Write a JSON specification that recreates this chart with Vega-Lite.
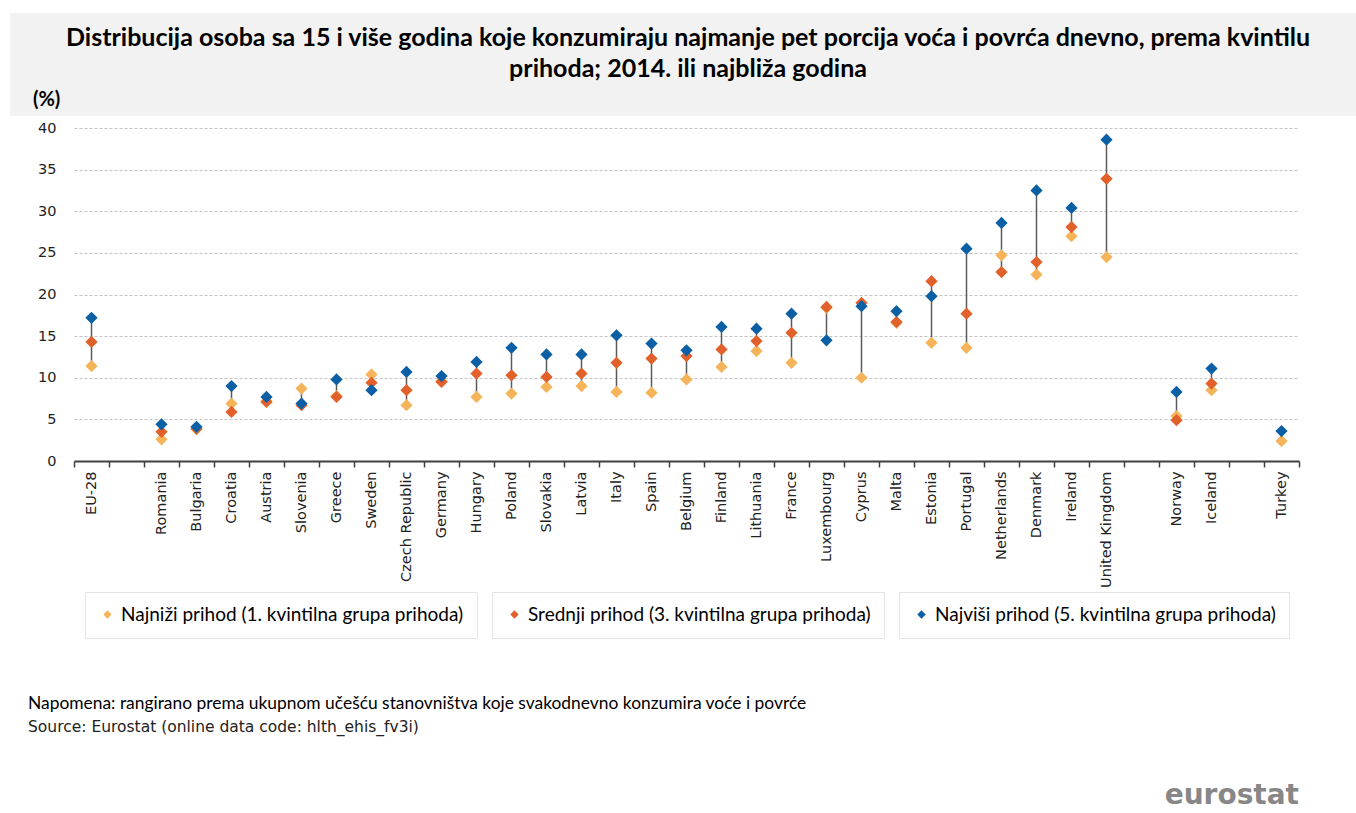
{
  "$schema": "https://vega.github.io/schema/vega-lite/v6.json",
  "background": "white",
  "padding": {"left": 9, "top": 13, "right": 0, "bottom": 0},
  "spacing": 4,
  "config": {
    "view": {"stroke": null},
    "font": "Liberation Sans",
    "legend": {
      "orient": "bottom",
      "title": null,
      "labelFont": "Lato",
      "labelFontSize": 19,
      "labelLimit": 600,
      "labelColor": "#000000",
      "symbolType": "diamond",
      "symbolSize": 70,
      "symbolStrokeWidth": 0,
      "symbolOffset": 0,
      "strokeColor": "#e4e4e4",
      "padding": 13,
      "offset": 4,
      "layout": {"bottom": {"anchor": "middle", "direction": "horizontal", "margin": 15}}
    }
  },
  "datasets": {
    "heading": [
      {"role": "t1", "text": "Distribucija osoba sa 15 i više godina koje konzumiraju najmanje pet porcija voća i povrća dnevno, prema kvintilu"},
      {"role": "t2", "text": "prihoda; 2014. ili najbliža godina"},
      {"role": "unit", "text": "(%)"}
    ],
    "consumption": [
      {"country": "EU-28", "group": "Najniži prihod (1. kvintilna grupa prihoda)", "value": 11.4},
      {"country": "EU-28", "group": "Srednji prihod (3. kvintilna grupa prihoda)", "value": 14.3},
      {"country": "EU-28", "group": "Najviši prihod (5. kvintilna grupa prihoda)", "value": 17.2},
      {"country": "Romania", "group": "Najniži prihod (1. kvintilna grupa prihoda)", "value": 2.6},
      {"country": "Romania", "group": "Srednji prihod (3. kvintilna grupa prihoda)", "value": 3.5},
      {"country": "Romania", "group": "Najviši prihod (5. kvintilna grupa prihoda)", "value": 4.4},
      {"country": "Bulgaria", "group": "Najniži prihod (1. kvintilna grupa prihoda)", "value": 3.8},
      {"country": "Bulgaria", "group": "Srednji prihod (3. kvintilna grupa prihoda)", "value": 3.9},
      {"country": "Bulgaria", "group": "Najviši prihod (5. kvintilna grupa prihoda)", "value": 4.1},
      {"country": "Croatia", "group": "Najniži prihod (1. kvintilna grupa prihoda)", "value": 6.9},
      {"country": "Croatia", "group": "Srednji prihod (3. kvintilna grupa prihoda)", "value": 5.9},
      {"country": "Croatia", "group": "Najviši prihod (5. kvintilna grupa prihoda)", "value": 9.0},
      {"country": "Austria", "group": "Najniži prihod (1. kvintilna grupa prihoda)", "value": 7.2},
      {"country": "Austria", "group": "Srednji prihod (3. kvintilna grupa prihoda)", "value": 7.1},
      {"country": "Austria", "group": "Najviši prihod (5. kvintilna grupa prihoda)", "value": 7.7},
      {"country": "Slovenia", "group": "Najniži prihod (1. kvintilna grupa prihoda)", "value": 8.7},
      {"country": "Slovenia", "group": "Srednji prihod (3. kvintilna grupa prihoda)", "value": 6.7},
      {"country": "Slovenia", "group": "Najviši prihod (5. kvintilna grupa prihoda)", "value": 6.9},
      {"country": "Greece", "group": "Najniži prihod (1. kvintilna grupa prihoda)", "value": 7.8},
      {"country": "Greece", "group": "Srednji prihod (3. kvintilna grupa prihoda)", "value": 7.7},
      {"country": "Greece", "group": "Najviši prihod (5. kvintilna grupa prihoda)", "value": 9.8},
      {"country": "Sweden", "group": "Najniži prihod (1. kvintilna grupa prihoda)", "value": 10.4},
      {"country": "Sweden", "group": "Srednji prihod (3. kvintilna grupa prihoda)", "value": 9.4},
      {"country": "Sweden", "group": "Najviši prihod (5. kvintilna grupa prihoda)", "value": 8.5},
      {"country": "Czech Republic", "group": "Najniži prihod (1. kvintilna grupa prihoda)", "value": 6.7},
      {"country": "Czech Republic", "group": "Srednji prihod (3. kvintilna grupa prihoda)", "value": 8.5},
      {"country": "Czech Republic", "group": "Najviši prihod (5. kvintilna grupa prihoda)", "value": 10.7},
      {"country": "Germany", "group": "Najniži prihod (1. kvintilna grupa prihoda)", "value": 9.6},
      {"country": "Germany", "group": "Srednji prihod (3. kvintilna grupa prihoda)", "value": 9.5},
      {"country": "Germany", "group": "Najviši prihod (5. kvintilna grupa prihoda)", "value": 10.2},
      {"country": "Hungary", "group": "Najniži prihod (1. kvintilna grupa prihoda)", "value": 7.7},
      {"country": "Hungary", "group": "Srednji prihod (3. kvintilna grupa prihoda)", "value": 10.5},
      {"country": "Hungary", "group": "Najviši prihod (5. kvintilna grupa prihoda)", "value": 11.9},
      {"country": "Poland", "group": "Najniži prihod (1. kvintilna grupa prihoda)", "value": 8.1},
      {"country": "Poland", "group": "Srednji prihod (3. kvintilna grupa prihoda)", "value": 10.3},
      {"country": "Poland", "group": "Najviši prihod (5. kvintilna grupa prihoda)", "value": 13.6},
      {"country": "Slovakia", "group": "Najniži prihod (1. kvintilna grupa prihoda)", "value": 8.9},
      {"country": "Slovakia", "group": "Srednji prihod (3. kvintilna grupa prihoda)", "value": 10.1},
      {"country": "Slovakia", "group": "Najviši prihod (5. kvintilna grupa prihoda)", "value": 12.8},
      {"country": "Latvia", "group": "Najniži prihod (1. kvintilna grupa prihoda)", "value": 9.0},
      {"country": "Latvia", "group": "Srednji prihod (3. kvintilna grupa prihoda)", "value": 10.5},
      {"country": "Latvia", "group": "Najviši prihod (5. kvintilna grupa prihoda)", "value": 12.8},
      {"country": "Italy", "group": "Najniži prihod (1. kvintilna grupa prihoda)", "value": 8.3},
      {"country": "Italy", "group": "Srednji prihod (3. kvintilna grupa prihoda)", "value": 11.8},
      {"country": "Italy", "group": "Najviši prihod (5. kvintilna grupa prihoda)", "value": 15.1},
      {"country": "Spain", "group": "Najniži prihod (1. kvintilna grupa prihoda)", "value": 8.2},
      {"country": "Spain", "group": "Srednji prihod (3. kvintilna grupa prihoda)", "value": 12.3},
      {"country": "Spain", "group": "Najviši prihod (5. kvintilna grupa prihoda)", "value": 14.1},
      {"country": "Belgium", "group": "Najniži prihod (1. kvintilna grupa prihoda)", "value": 9.8},
      {"country": "Belgium", "group": "Srednji prihod (3. kvintilna grupa prihoda)", "value": 12.6},
      {"country": "Belgium", "group": "Najviši prihod (5. kvintilna grupa prihoda)", "value": 13.3},
      {"country": "Finland", "group": "Najniži prihod (1. kvintilna grupa prihoda)", "value": 11.3},
      {"country": "Finland", "group": "Srednji prihod (3. kvintilna grupa prihoda)", "value": 13.4},
      {"country": "Finland", "group": "Najviši prihod (5. kvintilna grupa prihoda)", "value": 16.1},
      {"country": "Lithuania", "group": "Najniži prihod (1. kvintilna grupa prihoda)", "value": 13.2},
      {"country": "Lithuania", "group": "Srednji prihod (3. kvintilna grupa prihoda)", "value": 14.4},
      {"country": "Lithuania", "group": "Najviši prihod (5. kvintilna grupa prihoda)", "value": 15.9},
      {"country": "France", "group": "Najniži prihod (1. kvintilna grupa prihoda)", "value": 11.8},
      {"country": "France", "group": "Srednji prihod (3. kvintilna grupa prihoda)", "value": 15.4},
      {"country": "France", "group": "Najviši prihod (5. kvintilna grupa prihoda)", "value": 17.7},
      {"country": "Luxembourg", "group": "Najniži prihod (1. kvintilna grupa prihoda)", "value": 18.4},
      {"country": "Luxembourg", "group": "Srednji prihod (3. kvintilna grupa prihoda)", "value": 18.5},
      {"country": "Luxembourg", "group": "Najviši prihod (5. kvintilna grupa prihoda)", "value": 14.5},
      {"country": "Cyprus", "group": "Najniži prihod (1. kvintilna grupa prihoda)", "value": 10.0},
      {"country": "Cyprus", "group": "Srednji prihod (3. kvintilna grupa prihoda)", "value": 19.0},
      {"country": "Cyprus", "group": "Najviši prihod (5. kvintilna grupa prihoda)", "value": 18.6},
      {"country": "Malta", "group": "Najniži prihod (1. kvintilna grupa prihoda)", "value": 16.6},
      {"country": "Malta", "group": "Srednji prihod (3. kvintilna grupa prihoda)", "value": 16.7},
      {"country": "Malta", "group": "Najviši prihod (5. kvintilna grupa prihoda)", "value": 18.0},
      {"country": "Estonia", "group": "Najniži prihod (1. kvintilna grupa prihoda)", "value": 14.2},
      {"country": "Estonia", "group": "Srednji prihod (3. kvintilna grupa prihoda)", "value": 21.6},
      {"country": "Estonia", "group": "Najviši prihod (5. kvintilna grupa prihoda)", "value": 19.8},
      {"country": "Portugal", "group": "Najniži prihod (1. kvintilna grupa prihoda)", "value": 13.6},
      {"country": "Portugal", "group": "Srednji prihod (3. kvintilna grupa prihoda)", "value": 17.7},
      {"country": "Portugal", "group": "Najviši prihod (5. kvintilna grupa prihoda)", "value": 25.5},
      {"country": "Netherlands", "group": "Najniži prihod (1. kvintilna grupa prihoda)", "value": 24.7},
      {"country": "Netherlands", "group": "Srednji prihod (3. kvintilna grupa prihoda)", "value": 22.7},
      {"country": "Netherlands", "group": "Najviši prihod (5. kvintilna grupa prihoda)", "value": 28.6},
      {"country": "Denmark", "group": "Najniži prihod (1. kvintilna grupa prihoda)", "value": 22.4},
      {"country": "Denmark", "group": "Srednji prihod (3. kvintilna grupa prihoda)", "value": 23.9},
      {"country": "Denmark", "group": "Najviši prihod (5. kvintilna grupa prihoda)", "value": 32.5},
      {"country": "Ireland", "group": "Najniži prihod (1. kvintilna grupa prihoda)", "value": 27.0},
      {"country": "Ireland", "group": "Srednji prihod (3. kvintilna grupa prihoda)", "value": 28.1},
      {"country": "Ireland", "group": "Najviši prihod (5. kvintilna grupa prihoda)", "value": 30.4},
      {"country": "United Kingdom", "group": "Najniži prihod (1. kvintilna grupa prihoda)", "value": 24.5},
      {"country": "United Kingdom", "group": "Srednji prihod (3. kvintilna grupa prihoda)", "value": 33.9},
      {"country": "United Kingdom", "group": "Najviši prihod (5. kvintilna grupa prihoda)", "value": 38.6},
      {"country": "Norway", "group": "Najniži prihod (1. kvintilna grupa prihoda)", "value": 5.4},
      {"country": "Norway", "group": "Srednji prihod (3. kvintilna grupa prihoda)", "value": 4.9},
      {"country": "Norway", "group": "Najviši prihod (5. kvintilna grupa prihoda)", "value": 8.3},
      {"country": "Iceland", "group": "Najniži prihod (1. kvintilna grupa prihoda)", "value": 8.5},
      {"country": "Iceland", "group": "Srednji prihod (3. kvintilna grupa prihoda)", "value": 9.3},
      {"country": "Iceland", "group": "Najviši prihod (5. kvintilna grupa prihoda)", "value": 11.1},
      {"country": "Turkey", "group": "Najniži prihod (1. kvintilna grupa prihoda)", "value": 2.4},
      {"country": "Turkey", "group": "Najviši prihod (5. kvintilna grupa prihoda)", "value": 3.6}
    ]
  },
  "title": {
    "text": "eurostat",
    "orient": "bottom",
    "anchor": "end",
    "font": "DejaVu Sans",
    "fontSize": 28,
    "fontWeight": "bold",
    "color": "#878787",
    "offset": 47,
    "dx": -58
  },
  "vconcat": [
    {
      "width": 1283,
      "height": 103,
      "data": {"name": "heading"},
      "layer": [
        {
          "data": {"values": [{"band": "header"}]},
          "mark": {"type": "rect", "color": "#f2f2f2"},
          "encoding": {
            "x": {"datum": -0.0499, "type": "quantitative", "scale": {"domain": [0, 1]}, "axis": null},
            "x2": {"datum": 1}
          }
        },
        {
          "transform": [{"filter": "datum.role !== 'unit'"}],
          "mark": {"type": "text", "font": "Lato", "fontSize": 25, "fontWeight": "bold", "color": "#000000", "align": "center", "baseline": "middle"},
          "encoding": {
            "x": {"datum": 0.4786, "type": "quantitative"},
            "y": {"field": "role", "type": "ordinal", "sort": ["t1", "t2", "unit"], "scale": {"domain": ["t1", "t2", "unit"], "range": [25, 87], "padding": 0}, "axis": null},
            "text": {"field": "text"}
          }
        },
        {
          "transform": [{"filter": "datum.role === 'unit'"}],
          "mark": {"type": "text", "font": "Lato", "fontSize": 20, "fontWeight": "bold", "color": "#000000", "align": "left", "baseline": "middle"},
          "encoding": {
            "x": {"datum": -0.032, "type": "quantitative"},
            "y": {"field": "role", "type": "ordinal", "sort": ["t1", "t2", "unit"], "axis": null},
            "text": {"field": "text"}
          }
        }
      ]
    },
    {
      "width": 1225,
      "height": 333,
      "data": {"name": "consumption"},
      "title": {
        "text": "Napomena: rangirano prema ukupnom učešću stanovništva koje svakodnevno konzumira voće i povrće",
        "subtitle": "Source: Eurostat (online data code: hlth_ehis_fv3i)",
        "orient": "bottom",
        "anchor": "start",
        "frame": "bounds",
        "font": "Lato",
        "fontSize": 17.4,
        "fontWeight": "normal",
        "color": "#000000",
        "subtitleFont": "DejaVu Sans",
        "subtitleFontSize": 15.5,
        "subtitleColor": "#222222",
        "subtitlePadding": 8,
        "offset": 56,
        "dx": 18
      },
      "encoding": {
        "x": {
          "field": "country",
          "type": "nominal",
          "title": null,
          "scale": {
            "domain": ["EU-28", " ", "Romania", "Bulgaria", "Croatia", "Austria", "Slovenia", "Greece", "Sweden", "Czech Republic", "Germany", "Hungary", "Poland", "Slovakia", "Latvia", "Italy", "Spain", "Belgium", "Finland", "Lithuania", "France", "Luxembourg", "Cyprus", "Malta", "Estonia", "Portugal", "Netherlands", "Denmark", "Ireland", "United Kingdom", "  ", "Norway", "Iceland", "   ", "Turkey"],
            "paddingInner": 0,
            "paddingOuter": 0
          },
          "axis": {
            "labelAngle": -90,
            "labelFont": "DejaVu Sans",
            "labelFontSize": 14.5,
            "labelColor": "#222222",
            "labelPadding": 4,
            "tickBand": "extent",
            "tickSize": 6,
            "tickWidth": 1.5,
            "tickColor": "#404040",
            "domainColor": "#404040",
            "domainWidth": 2,
            "grid": false
          }
        }
      },
      "layer": [
        {
          "transform": [
            {"aggregate": [{"op": "min", "field": "value", "as": "low"}, {"op": "max", "field": "value", "as": "high"}], "groupby": ["country"]}
          ],
          "mark": {"type": "rule", "color": "#5a5a5a", "strokeWidth": 1.5},
          "encoding": {
            "y": {"field": "low", "type": "quantitative", "scale": {"domain": [0, 40]}, "axis": {"title": null, "values": [0, 5, 10, 15, 20, 25, 30, 35, 40], "grid": true, "gridDash": [3, 2], "gridColor": "#c4c4c4", "domain": false, "ticks": false, "labelFont": "DejaVu Sans", "labelFontSize": 14.5, "labelColor": "#222222", "labelPadding": 18, "minExtent": 64}},
            "y2": {"field": "high"}
          }
        },
        {
          "transform": [{"filter": "datum.group === 'Najniži prihod (1. kvintilna grupa prihoda)'"}],
          "mark": {"type": "point", "shape": "diamond", "filled": true, "size": 150, "opacity": 1},
          "encoding": {
            "y": {"field": "value", "type": "quantitative", "scale": {"domain": [0, 40]}, "axis": {"title": null, "values": [0, 5, 10, 15, 20, 25, 30, 35, 40], "grid": true, "gridDash": [3, 2], "gridColor": "#c4c4c4", "domain": false, "ticks": false, "labelFont": "DejaVu Sans", "labelFontSize": 14.5, "labelColor": "#222222", "labelPadding": 18, "minExtent": 64}},
            "color": {"field": "group", "type": "nominal", "scale": {"range": ["#F6B45A"]}}
          }
        },
        {
          "transform": [{"filter": "datum.group === 'Srednji prihod (3. kvintilna grupa prihoda)'"}],
          "mark": {"type": "point", "shape": "diamond", "filled": true, "size": 150, "opacity": 1},
          "encoding": {
            "y": {"field": "value", "type": "quantitative", "scale": {"domain": [0, 40]}, "axis": {"title": null, "values": [0, 5, 10, 15, 20, 25, 30, 35, 40], "grid": true, "gridDash": [3, 2], "gridColor": "#c4c4c4", "domain": false, "ticks": false, "labelFont": "DejaVu Sans", "labelFontSize": 14.5, "labelColor": "#222222", "labelPadding": 18, "minExtent": 64}},
            "color": {"field": "group", "type": "nominal", "scale": {"range": ["#E2612A"]}}
          }
        },
        {
          "transform": [{"filter": "datum.group === 'Najviši prihod (5. kvintilna grupa prihoda)'"}],
          "mark": {"type": "point", "shape": "diamond", "filled": true, "size": 150, "opacity": 1},
          "encoding": {
            "y": {"field": "value", "type": "quantitative", "scale": {"domain": [0, 40]}, "axis": {"title": null, "values": [0, 5, 10, 15, 20, 25, 30, 35, 40], "grid": true, "gridDash": [3, 2], "gridColor": "#c4c4c4", "domain": false, "ticks": false, "labelFont": "DejaVu Sans", "labelFontSize": 14.5, "labelColor": "#222222", "labelPadding": 18, "minExtent": 64}},
            "color": {"field": "group", "type": "nominal", "scale": {"range": ["#0B5FA5"]}}
          }
        }
      ],
      "resolve": {"scale": {"color": "independent"}}
    }
  ]
}
